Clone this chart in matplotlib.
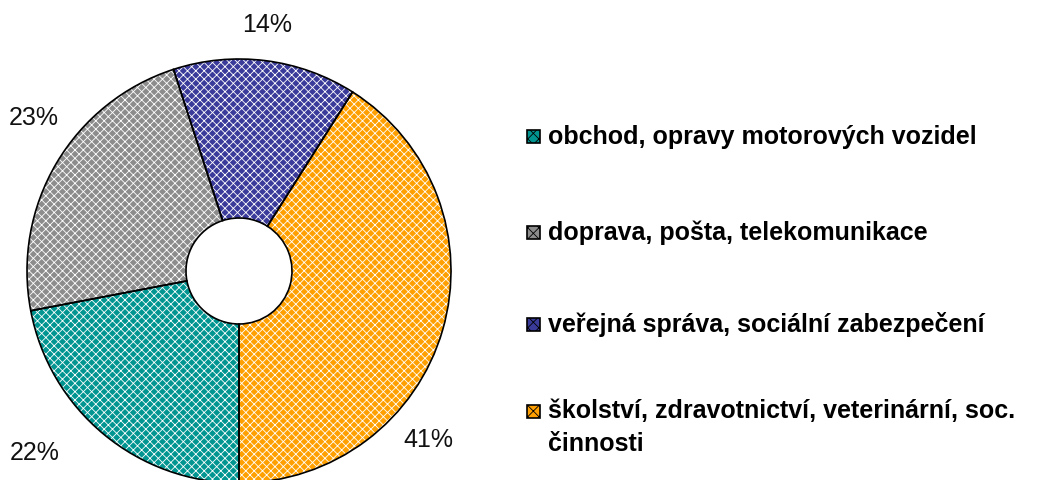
import matplotlib
matplotlib.use("Agg")
import matplotlib.pyplot as plt
from matplotlib.patches import Rectangle

categories = [
    "obchod, opravy motorových vozidel",
    "doprava, pošta, telekomunikace",
    "veřejná správa, sociální zabezpečení",
    "školství, zdravotnictví, veterinární, soc.\nčinnosti",
]
values = [22, 23, 14, 41]
pct_labels = ["22%", "23%", "14%", "41%"]
colors = ["#009590", "#8c8c8c", "#3a3a9a", "#ffa000"]

# label positions in units of pie radius (relative to pie centre)
label_pos = [(-0.962, -0.854), (-0.967, 0.726), (0.132, 1.165), (0.892, -0.792)]

plt.rcParams["font.family"] = ["Liberation Sans", "DejaVu Sans"]
plt.rcParams["hatch.linewidth"] = 0.6

W, H = 1042, 481
fig = plt.figure(figsize=(W / 100, H / 100), dpi=100)
fig.patch.set_facecolor("white")

cx, cy, r = 239, 272, 212
ax = fig.add_axes([(cx - r) / W, (H - cy - r) / H, 2 * r / W, 2 * r / H])

wedges, _ = ax.pie(values, colors=colors, startangle=-90, counterclock=False,
                   radius=1, wedgeprops=dict(width=0.75, linewidth=0))
over, _ = ax.pie(values, startangle=-90, counterclock=False, radius=1,
                 wedgeprops=dict(width=0.75, linewidth=0, facecolor="none",
                                 edgecolor="white", hatch="xxxx"))
outl, _ = ax.pie(values, startangle=-90, counterclock=False, radius=1,
                 wedgeprops=dict(width=0.75, linewidth=1.2, facecolor="none",
                                 edgecolor="black"))
ax.set_xlim(-1, 1)
ax.set_ylim(-1, 1)
ax.set_aspect("equal")
ax.axis("off")

for (lx, ly), t in zip(label_pos, pct_labels):
    ax.text(lx, ly, t, ha="center", va="center", fontsize=18, color="#111111",
            clip_on=False)

# legend
leg_y = [137, 233, 325, 412]
for y, c, lab in zip(leg_y, colors, categories):
    fig.patches.append(Rectangle((527 / W, (H - y - 6.5) / H), 13 / W, 13 / H,
                                 transform=fig.transFigure, facecolor=c,
                                 edgecolor="black", linewidth=1.2, hatch="xxx"))
    if "\n" in lab:
        fig.text(548 / W, (H - y + 13) / H, lab, ha="left", va="top",
                 fontsize=18, fontweight="bold", color="black", linespacing=1.5)
    else:
        fig.text(548 / W, (H - y) / H, lab, ha="left", va="center",
                 fontsize=18, fontweight="bold", color="black")

fig.savefig("out.png", dpi=100, facecolor="white")
